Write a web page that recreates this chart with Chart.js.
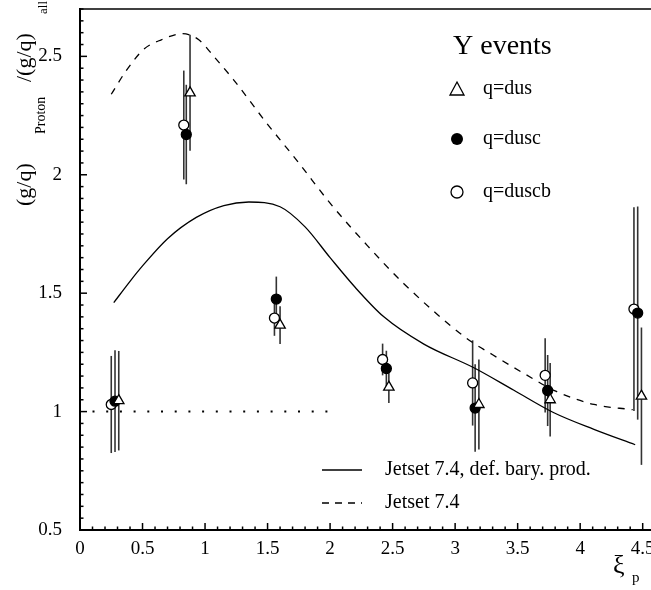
<!DOCTYPE html>
<html>
<head>
<meta charset="utf-8">
<script src="https://cdn.jsdelivr.net/npm/chart.js@4.4.1/dist/chart.umd.min.js"></script>
<style>
  html, body { margin: 0; padding: 0; background: #fff; }
  #wrap { width: 651px; height: 590px; overflow: hidden; }
</style>
</head>
<body>
<div id="wrap"><canvas id="chart" width="675" height="590"></canvas></div>
<script>
// data
const xDus = [0.31, 0.88, 1.60, 2.47, 3.19, 3.76, 4.49];
const yDus = [1.046, 2.346, 1.365, 1.103, 1.03, 1.05, 1.065];
const errDus = [0.21, 0.245, 0.08, 0.067, 0.19, 0.155, 0.29];

const xDusc = [0.28, 0.85, 1.57, 2.45, 3.16, 3.74, 4.46];
const yDusc = [1.044, 2.17, 1.475, 1.182, 1.015, 1.089, 1.416];
const errDusc = [0.215, 0.21, 0.095, 0.075, 0.185, 0.15, 0.45];

const xDuscb = [0.25, 0.83, 1.555, 2.42, 3.14, 3.72, 4.43];
const yDuscb = [1.03, 2.21, 1.395, 1.22, 1.121, 1.153, 1.433];
const errDuscb = [0.205, 0.23, 0.075, 0.067, 0.18, 0.157, 0.43];

const xBary = [0.27, 0.4, 0.5, 0.7, 0.93, 1.15, 1.35, 1.6, 1.8, 2.0, 2.2, 2.43, 2.75, 3.15, 3.47, 3.79, 4.11, 4.44];
const yBary = [1.46, 1.55, 1.615, 1.73, 1.82, 1.87, 1.885, 1.865, 1.78, 1.65, 1.525, 1.40, 1.285, 1.185, 1.09, 0.995, 0.925, 0.86];

const xJetset = [0.25, 0.37, 0.51, 0.65, 0.82, 0.95, 1.07, 1.23, 1.49, 1.75, 2.0, 2.3, 2.59, 3.09, 3.3, 3.57, 3.81, 4.11, 4.42];
const yJetset = [2.34, 2.44, 2.53, 2.57, 2.596, 2.57, 2.50, 2.40, 2.22, 2.05, 1.88, 1.70, 1.54, 1.31, 1.24, 1.155, 1.085, 1.03, 1.008];

const xUnity = [0.1, 2.0];
const yUnity = [1, 1];

const xTickLabels = ['0', '0.5', '1', '1.5', '2', '2.5', '3', '3.5', '4', '4.5'];
const yTickLabels = ['0.5', '1', '1.5', '2', '2.5'];

const serif = '"Liberation Serif", "DejaVu Serif", serif';

function pts(xs, ys) {
    return xs.map((x, i) => ({ x: x, y: ys[i] }));
}

function markerSet(label, xs, ys, errs, style, fill) {
    return {
        type: 'scatter',
        label: label,
        data: pts(xs, ys),
        errors: errs,
        pointStyle: style,
        pointRadius: style === 'triangle' ? 6 : 5,
        pointBackgroundColor: fill,
        pointBorderColor: '#000',
        pointBorderWidth: 1.3,
    };
}

// vertical error bars, drawn under the markers
const errorBars = {
    id: 'errorBars',
    beforeDatasetsDraw(chart) {
        const ctx = chart.ctx;
        const xs = chart.scales.x, ys = chart.scales.y;
        ctx.save();
        ctx.strokeStyle = '#333';
        ctx.lineWidth = 1.6;
        chart.data.datasets.forEach(ds => {
            if (!ds.errors) return;
            ds.data.forEach((p, i) => {
                const px = xs.getPixelForValue(p.x);
                ctx.beginPath();
                ctx.moveTo(px, ys.getPixelForValue(p.y - ds.errors[i]));
                ctx.lineTo(px, ys.getPixelForValue(p.y + ds.errors[i]));
                ctx.stroke();
            });
        });
        ctx.restore();
    }
};

// inward tick marks, top frame line, titles and the two legends
const decorations = {
    id: 'decorations',
    afterDraw(chart) {
        const ctx = chart.ctx;
        const a = chart.chartArea;
        const xs = chart.scales.x, ys = chart.scales.y;
        ctx.save();
        ctx.strokeStyle = '#000';
        ctx.lineWidth = 1.5;
        // top line
        ctx.beginPath();
        ctx.moveTo(a.left, a.top);
        ctx.lineTo(a.right, a.top);
        ctx.stroke();
        // y ticks every 0.05
        for (let k = 10; k <= 54; k++) {
            const v = k * 0.05;
            const py = ys.getPixelForValue(v);
            const len = k % 10 === 0 ? 7 : 3.5;
            ctx.beginPath();
            ctx.moveTo(a.left, py);
            ctx.lineTo(a.left + len, py);
            ctx.stroke();
        }
        // x ticks every 0.1
        for (let k = 0; k <= 47; k++) {
            const v = k * 0.1;
            const px = xs.getPixelForValue(v);
            const len = k % 5 === 0 ? 7 : 3.5;
            ctx.beginPath();
            ctx.moveTo(px, a.bottom);
            ctx.lineTo(px, a.bottom - len);
            ctx.stroke();
        }

        ctx.fillStyle = '#000';
        ctx.textBaseline = 'middle';
        ctx.textAlign = 'left';

        // y title, rotated
        const rot = (txt, size, x, y) => {
            ctx.save();
            ctx.translate(x, y);
            ctx.rotate(-Math.PI / 2);
            ctx.font = size + 'px ' + serif;
            ctx.fillText(txt, 0, 0);
            ctx.restore();
        };
        rot('(g/q)', 22, 25, 206);
        rot('Proton', 14, 41, 134);
        rot('/(g/q)', 22, 25, 82);
        rot('all', 13, 44, 14);

        // x title
        ctx.font = '26px ' + serif;
        ctx.fillText('ξ', 613, 566);
        ctx.font = '15px ' + serif;
        ctx.fillText('p', 632, 578);

        // upper legend
        ctx.font = '28px ' + serif;
        ctx.fillText('Y events', 453, 47);
        ctx.font = '20px ' + serif;
        const legendRows = [
            ['q=dus', 89], ['q=dusc', 139], ['q=duscb', 192]
        ];
        legendRows.forEach(r => ctx.fillText(r[0], 483, r[1]));
        ctx.lineWidth = 1.3;
        // triangle
        ctx.beginPath();
        ctx.moveTo(457, 82);
        ctx.lineTo(464, 95);
        ctx.lineTo(450, 95);
        ctx.closePath();
        ctx.fillStyle = '#fff';
        ctx.fill();
        ctx.stroke();
        ctx.beginPath();
        ctx.arc(457, 139, 6, 0, Math.PI * 2);
        ctx.fillStyle = '#000';
        ctx.fill();
        ctx.beginPath();
        ctx.arc(457, 192, 6, 0, Math.PI * 2);
        ctx.fillStyle = '#fff';
        ctx.fill();
        ctx.stroke();

        // lower legend
        ctx.fillStyle = '#000';
        ctx.lineWidth = 1.3;
        ctx.beginPath();
        ctx.moveTo(322, 470);
        ctx.lineTo(362, 470);
        ctx.stroke();
        ctx.setLineDash([7, 6]);
        ctx.beginPath();
        ctx.moveTo(322, 503);
        ctx.lineTo(362, 503);
        ctx.stroke();
        ctx.setLineDash([]);
        ctx.font = '20px ' + serif;
        ctx.fillText('Jetset 7.4, def. bary. prod.', 385, 470);
        ctx.fillText('Jetset 7.4', 385, 503);
        ctx.restore();
    }
};

const config = {
    type: 'scatter',
    data: {
        datasets: [
            {
                type: 'line',
                label: 'Jetset 7.4, def. bary. prod.',
                data: pts(xBary, yBary),
                borderColor: '#000',
                borderWidth: 1.3,
                pointRadius: 0,
                cubicInterpolationMode: 'monotone',
                fill: false,
            },
            {
                type: 'line',
                label: 'Jetset 7.4',
                data: pts(xJetset, yJetset),
                borderColor: '#000',
                borderWidth: 1.3,
                borderDash: [7, 7],
                pointRadius: 0,
                cubicInterpolationMode: 'monotone',
                fill: false,
            },
            {
                type: 'line',
                label: 'unity',
                data: pts(xUnity, yUnity),
                borderColor: '#000',
                borderWidth: 2,
                borderDash: [2, 11.7],
                pointRadius: 0,
                fill: false,
            },
            markerSet('q=dus', xDus, yDus, errDus, 'triangle', '#fff'),
            markerSet('q=dusc', xDusc, yDusc, errDusc, 'circle', '#000'),
            markerSet('q=duscb', xDuscb, yDuscb, errDuscb, 'circle', '#fff'),
        ],
    },
    options: {
        responsive: false,
        animation: false,
        devicePixelRatio: 1,
        layout: { padding: { top: 9, right: 7, left: 0, bottom: 0 } },
        plugins: {
            legend: { display: false },
            tooltip: { enabled: false },
        },
        scales: {
            x: {
                type: 'linear',
                min: 0,
                max: 4.7,
                afterFit: s => {
                    s.height = 60;
                    s.paddingLeft = 0; s.paddingRight = 0;
                    s.paddingTop = 0; s.paddingBottom = 0;
                },
                afterBuildTicks: s => {
                    s.ticks = xTickLabels.map(t => ({ value: parseFloat(t) }));
                },
                grid: { display: false, drawTicks: false },
                border: { display: true, color: '#000', width: 2 },
                ticks: {
                    padding: 8,
                    color: '#000',
                    font: { family: serif, size: 19 },
                    callback: v => xTickLabels.find(t => parseFloat(t) === v) || '',
                },
            },
            y: {
                type: 'linear',
                min: 0.5,
                max: 2.7,
                afterFit: s => {
                    s.width = 80;
                    s.paddingLeft = 0; s.paddingRight = 0;
                    s.paddingTop = 0; s.paddingBottom = 0;
                },
                afterBuildTicks: s => {
                    s.ticks = yTickLabels.map(t => ({ value: parseFloat(t) }));
                },
                grid: { display: false, drawTicks: false },
                border: { display: true, color: '#000', width: 2 },
                ticks: {
                    padding: 18,
                    color: '#000',
                    font: { family: serif, size: 19 },
                    callback: v => yTickLabels.find(t => parseFloat(t) === v) || '',
                },
            },
        },
    },
    plugins: [errorBars, decorations],
};

const chartEl = document.getElementById('chart');
window.myChart = new Chart(chartEl, config);
</script>
</body>
</html>
